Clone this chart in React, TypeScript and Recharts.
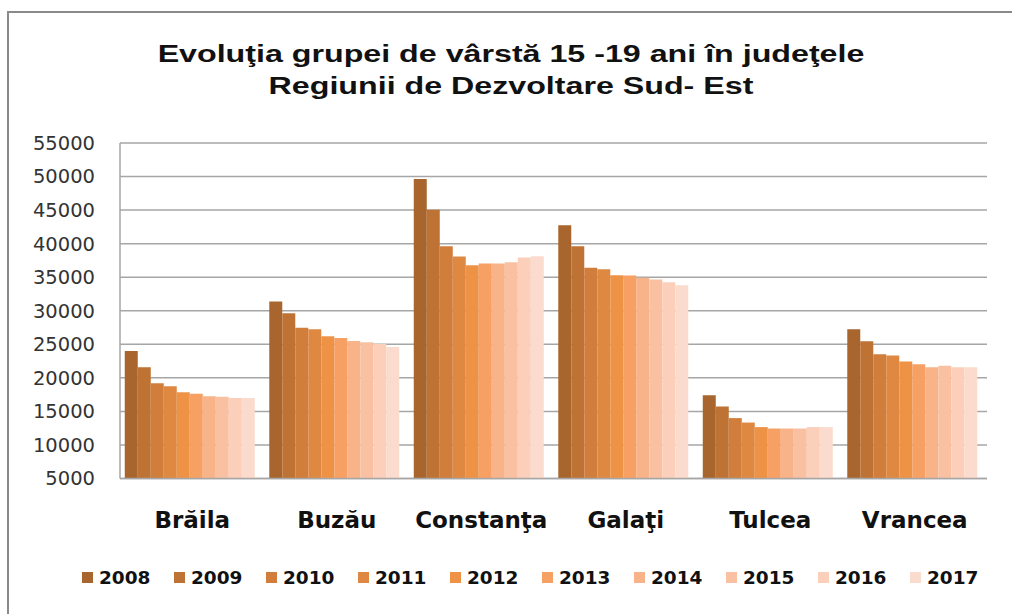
import React from 'react';
import { BarChart, Bar, XAxis, YAxis, CartesianGrid, Legend } from 'recharts';

const counties = ['Brăila', 'Buzău', 'Constanţa', 'Galaţi', 'Tulcea', 'Vrancea'];
const years = ['2008', '2009', '2010', '2011', '2012', '2013', '2014', '2015', '2016', '2017'];
const colors = ['#A8662E', '#BE7334', '#D17D3B', '#DE8842', '#EE9346', '#F6A064', '#F8B388', '#F9C0A2', '#FBCFBA', '#FBDBCD'];

const braila = [24000, 21570, 19180, 18730, 17840, 17630, 17240, 17180, 16990, 16990];
const buzau = [31360, 29630, 27480, 27240, 26190, 25940, 25490, 25300, 25040, 24600];
const constanta = [49630, 45040, 39630, 38070, 36790, 37030, 37030, 37240, 37930, 38130];
const galati = [42750, 39620, 36390, 36190, 35300, 35250, 34900, 34640, 34260, 33810];
const tulcea = [17420, 15730, 14000, 13340, 12660, 12450, 12450, 12450, 12660, 12660];
const vrancea = [27250, 25470, 23530, 23320, 22430, 22040, 21590, 21790, 21590, 21590];

const yTicks = [5000, 10000, 15000, 20000, 25000, 30000, 35000, 40000, 45000, 50000, 55000];

const titleLines = ['Evoluţia grupei de vârstă 15 -19 ani în judeţele', 'Regiunii de Dezvoltare Sud- Est'];

const seriesByCounty = [braila, buzau, constanta, galati, tulcea, vrancea];
const data = counties.map((c, i) => {
  const row: Record<string, string | number> = { county: c };
  years.forEach((y, j) => {
    row['y' + y] = seriesByCounty[i][j];
  });
  return row;
});

const LegendContent = () => (
  <div style={{ display: 'flex', flexDirection: 'row', paddingLeft: 82 }}>
    {years.map((y, i) => (
      <div key={y} style={{ display: 'flex', alignItems: 'center', width: 92 }}>
        <div style={{ width: 11, height: 11, background: colors[i], marginRight: 6 }} />
        <span style={{ fontFamily: 'DejaVu Sans', fontWeight: 'bold', fontSize: 18.5, color: '#111' }}>{y}</span>
      </div>
    ))}
  </div>
);

export default function App() {
  return (
    <div style={{ position: 'absolute', left: 0, top: 0, width: 1012, height: 614, background: '#fff', overflow: 'hidden' }}>
      <div style={{ position: 'absolute', left: 7, top: 11, width: 1100, height: 700, borderLeft: '2.5px solid #8a8a8a', borderTop: '2.5px solid #8a8a8a', boxSizing: 'border-box' }} />
      <div style={{ position: 'absolute', left: 0, top: 38, width: 1012, fontFamily: 'Liberation Sans', fontWeight: 'bold', fontSize: 23.5, lineHeight: '32px', color: '#111' }}>
        {titleLines.map((t) => (
          <div key={t} style={{ textAlign: 'center', transform: 'translateX(5px) scaleX(1.37)', transformOrigin: '50% 50%', whiteSpace: 'nowrap' }}>{t}</div>
        ))}
      </div>
      <div style={{ position: 'absolute', left: 0, top: 0 }}>
        <BarChart width={1012} height={614} data={data} margin={{ top: 143, right: 25, bottom: 75.5, left: 0 }} barCategoryGap="3.3%" barGap={0}>
          <CartesianGrid vertical={false} stroke="#A6A6A6" strokeWidth={1.5} />
          <XAxis dataKey="county" stroke="#A6A6A6" strokeWidth={1.5} tickLine={false} tickSize={0} tickMargin={33} height={60}
            tick={{ fontFamily: 'DejaVu Sans', fontWeight: 'bold', fontSize: 23, fill: '#111' }} />
          <YAxis domain={[5000, 55000]} ticks={yTicks} interval={0} width={120} stroke="#A6A6A6" strokeWidth={1.5} tickLine={false} tickSize={0} tickMargin={25}
            tick={{ fontFamily: 'DejaVu Sans', fontSize: 19.5, fill: '#333' }} />
          <Legend layout="horizontal" verticalAlign="middle" align="center" wrapperStyle={{ top: 567, left: 0, width: 1012 }} content={<LegendContent />} />
          {years.map((y, i) => (
            <Bar key={y} dataKey={'y' + y} name={y} fill={colors[i]} isAnimationActive={false} />
          ))}
        </BarChart>
      </div>
    </div>
  );
}
